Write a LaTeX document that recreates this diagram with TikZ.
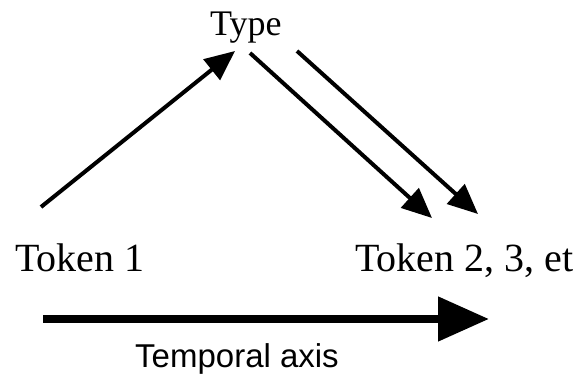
\documentclass[tikz,border=0pt]{standalone}
\usepackage{fontspec}
\setmainfont{Liberation Serif}
\setsansfont{Liberation Sans}
\usetikzlibrary{arrows.meta}
\tikzset{
  lbl/.style={inner sep=0pt, anchor=base west, font=\fontsize{40}{48}\selectfont},
  thinarrow/.style={line width=4pt, -{Triangle[length=30pt,width=26pt]}},
  axisarrow/.style={line width=8pt, -{Triangle[length=51pt,width=43pt]}},
}
\begin{document}
\begin{tikzpicture}[x=1pt,y=-1pt]
\useasboundingbox (0,0) rectangle (586,379);
\node[lbl, font=\fontsize{36}{43}\selectfont] (type) at (210,36) {Type};
\node[lbl] (tok1) at (15,272) {Token 1};
\node[lbl] (tok2) at (355,272) {Token 2, 3, et};
\node[inner sep=0pt, anchor=base west, font=\sffamily\fontsize{33}{40}\selectfont] (axis) at (135,367) {Temporal axis};
\coordinate (a1s) at (41,207);
\coordinate (a1e) at (235,51);
\coordinate (a2s) at (250,53);
\coordinate (a2e) at (432,218);
\coordinate (a3s) at (297,51);
\coordinate (a3e) at (478,214);
\coordinate (ts) at (43,319);
\coordinate (te) at (489,319);
\draw[thinarrow] (a1s) -- (a1e);
\draw[thinarrow] (a2s) -- (a2e);
\draw[thinarrow] (a3s) -- (a3e);
\draw[axisarrow] (ts) -- (te);
\end{tikzpicture}
\end{document}
